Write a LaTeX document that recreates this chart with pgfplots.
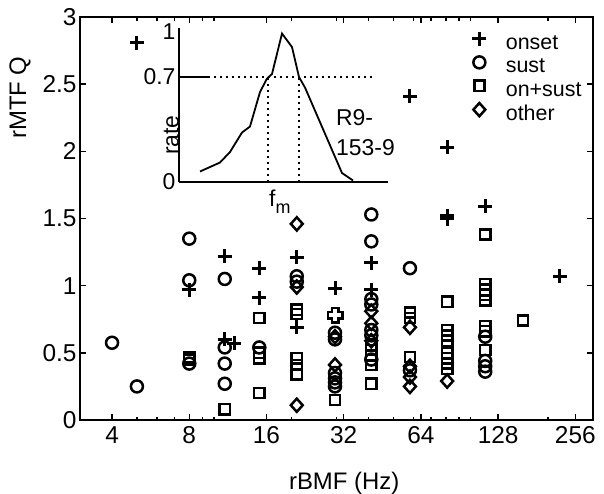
\documentclass[border=0pt]{standalone}
\usepackage{fontspec}
\setmainfont{Liberation Sans}
\usepackage{pgfplots}
\pgfplotsset{compat=1.18}
\begin{document}
\begin{tikzpicture}[font=\fontsize{23}{27}\selectfont]
\useasboundingbox (-80bp,-74bp) rectangle (524bp,420bp);
\begin{axis}[
  at={(0bp,0bp)}, anchor=south west,
  scale only axis, width=513bp, height=403bp,
  xmode=log,
  xmin=3, xmax=300, ymin=0, ymax=3,
  xtick={4,8,16,32,64,128,256}, xticklabels={4,8,16,32,64,128,256},
  minor xtick={3,5,6,7,9,10,20,30,40,50,60,70,80,90,100,200,300},
  ytick={0,0.5,1,1.5,2,2.5,3}, yticklabels={0,0.5,1,1.5,2,2.5,3},
  /pgf/number format/assume math mode=true,
  tick align=inside, major tick length=6bp, minor tick length=3.5bp,
  axis line style={line width=2.5bp},
  every tick/.style={line width=1.5bp, black},
  tick label style={font=\fontsize{24.5}{28}\selectfont},
  label style={font=\fontsize{24}{28}\selectfont},
  xticklabel style={yshift=-3bp},
  xlabel={rBMF (Hz)}, ylabel={rMTF Q},
  xlabel style={at={(axis description cs:0.515,-0.158)}, anchor=center},
  ylabel style={at={(axis description cs:-0.117,0.80)}, anchor=center},
  legend style={at={(axis description cs:0.758,0.963)}, anchor=north west,
    draw=none, fill=none, inner sep=0pt, outer sep=0pt,
    row sep=1.7bp, column sep=16bp,
    nodes={inner sep=0pt, text height=16bp, text depth=5bp},
    font=\fontsize{21.5}{24}\selectfont},
  legend cell align=left,
  legend image code/.code={\path (0bp,0bp) (18bp,10bp);
    \draw[mark repeat=2,mark phase=2,#1] plot coordinates {(0bp,5bp) (9bp,5bp) (18bp,5bp)};},
  clip=false,
]
% onset
\addplot[only marks, mark=+, mark size=7bp, line width=3bp, black] coordinates {
(5,2.81) (8,0.97) (11,1.22) (11,0.60) (12,0.57) (15,1.13) (15,0.91)
(21,1.21) (21,0.69) (29.6,0.98) (41,1.17) (41,0.97) (58,2.41)
(81,2.03) (81,1.52) (81,1.50) (114,1.59) (223,1.07)};
\addlegendentry{onset}
% sust
\addplot[only marks, mark=o, mark size=6bp, line width=2.5bp, black] coordinates {
(4,0.575) (5,0.25) (8,1.35) (8,1.04) (8,0.42) (11,1.05) (11,0.54) (11,0.42) (11,0.27)
(15,0.54) (21,1.07) (21,1.03) (29.6,0.65) (29.6,0.60) (29.6,0.35) (29.6,0.31)
(29.6,0.28) (29.6,0.25) (41,1.53) (41,1.33) (41,0.90) (41,0.86) (41,0.67) (41,0.63)
(41,0.45) (58,1.13) (58,0.37) (114,0.62) (114,0.44) (114,0.40) (114,0.36)};
\addlegendentry{sust}
% on+sust
\addplot[only marks, mark=square, mark size=5.1bp, line width=2.5bp, black] coordinates {
(8,0.47) (8,0.45) (11,0.08) (15,0.76) (15,0.50) (15,0.46) (15,0.20)
(21,0.82) (21,0.79) (21,0.46) (21,0.41) (21,0.34) (29.6,0.15)
(41,0.56) (41,0.52) (41,0.48) (41,0.41) (41,0.27)
(58,0.80) (58,0.76) (58,0.47)
(81,0.88) (81,0.67) (81,0.63) (81,0.59) (81,0.50) (81,0.46) (81,0.42) (81,0.38)
(114,1.38) (114,1.01) (114,0.97) (114,0.93) (114,0.89) (114,0.70) (114,0.66) (114,0.52)
(160,0.74)};
\addlegendentry{on+sust}
% other
\addplot[only marks, mark=diamond, mark size=6.6bp, line width=2.5bp, black,
  mark options={xscale=1.2}] coordinates {
(21,1.46) (21,0.99) (21,0.11) (29.6,0.62) (29.6,0.41) (41,0.81) (41,0.72) (41,0.59)
(58,0.69) (58,0.40) (58,0.32) (58,0.25) (81,0.29)};
\addlegendentry{other}
% highlighted unit
\addplot[forget plot, only marks, mark=+, mark size=4bp, line width=9bp, black,
  mark options={line cap=rect}] coordinates {(29.6,0.78)};
\addplot[forget plot, only marks, mark=+, mark size=4bp, line width=4bp, white,
  mark options={line cap=rect}] coordinates {(29.6,0.78)};
\end{axis}
% inset
\begin{axis}[
  at={(99bp,238bp)}, anchor=south west,
  scale only axis, width=209bp, height=154bp,
  xmin=0, xmax=209, ymin=0, ymax=1.027,
  axis x line=bottom, axis y line=left,
  axis line style={-, line width=2bp},
  xtick=\empty, ytick={0,0.7,1}, yticklabels={0,0.7,1},
  major tick length=0pt,
  /pgf/number format/assume math mode=true,
  clip=false,
]
\addplot[black, line width=1.8bp] coordinates {
(21,0.07) (41,0.13) (51,0.20) (63,0.33) (71,0.37) (81,0.60) (88,0.69) (93,0.72)
(103,0.99) (113,0.90) (120,0.70) (126,0.63) (163,0.06) (174,0.01)};
\addplot[black, line width=2.4bp, dash pattern=on 2.4bp off 3.6bp] coordinates {(29,0.7) (193,0.7)};
\addplot[black, line width=2.2bp] coordinates {(0,0.7) (29,0.7)};
\addplot[black, line width=2.4bp, dash pattern=on 2.4bp off 3.6bp] coordinates {(89,0) (89,0.7)};
\addplot[black, line width=2.4bp, dash pattern=on 2.4bp off 3.6bp] coordinates {(120,0) (120,0.7)};
\node[anchor=west, inner sep=0pt] at (axis cs:157,0.43) {R9-};
\node[anchor=west, inner sep=0pt] at (axis cs:157,0.23) {153-9};
\node[anchor=north west, inner sep=0pt, yshift=-8bp] at (axis cs:90,0) {f\raisebox{-7bp}{\fontsize{18}{20}\selectfont m}};
\node[rotate=90, anchor=south, inner sep=0pt, xshift=-7bp] at (axis cs:0,0.36) {rate};
\end{axis}
\end{tikzpicture}
\end{document}
